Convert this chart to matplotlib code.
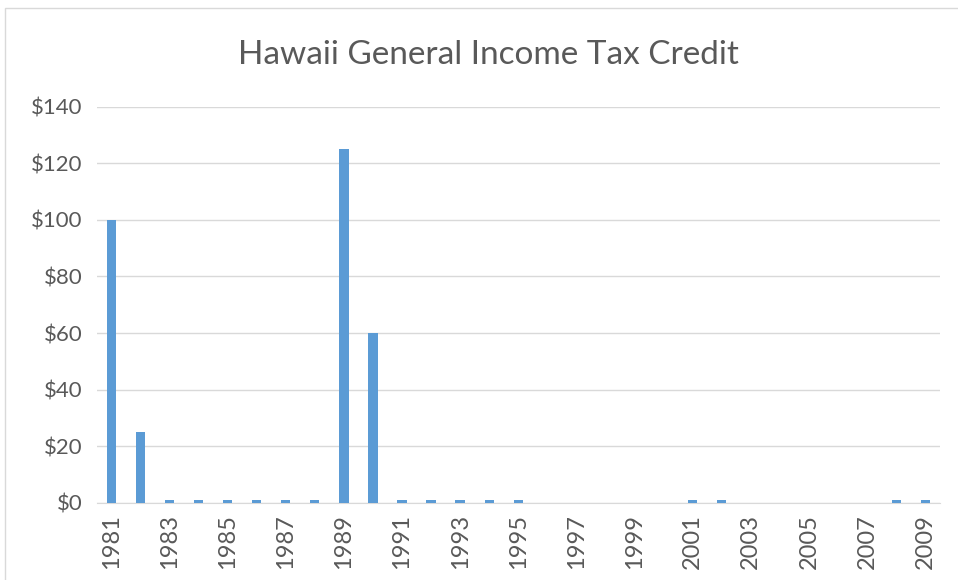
import matplotlib.pyplot as plt
from matplotlib.patches import Rectangle

years = list(range(1981, 2010))
credit = [100, 25, 1, 1, 1, 1, 1, 1, 125, 60, 1, 1, 1, 1, 1,
          0, 0, 0, 0, 0, 1, 1, 0, 0, 0, 0, 0, 1, 1]
tick_labels = [str(y) if (y - 1981) % 2 == 0 else "" for y in years]
y_ticks = [0, 20, 40, 60, 80, 100, 120, 140]

plt.rcParams["font.family"] = ["Lato", "DejaVu Sans"]
text_color = "#595959"

fig = plt.figure(figsize=(9.58, 5.8), dpi=100)
ax = fig.add_axes([0.101, 0.133, 0.880, 0.683])

x = list(range(len(years)))
ax.bar(x, credit, width=0.32, color="#5B9BD5", zorder=3)

ax.set_xlim(-0.5, len(years) - 0.5)
ax.set_ylim(0, 140)
ax.set_yticks(y_ticks)
ax.set_yticklabels([f"${v}" for v in y_ticks])
ax.set_xticks(x)
ax.set_xticklabels(tick_labels, rotation=90)
ax.tick_params(axis="both", length=0, colors=text_color)
ax.tick_params(axis="x", pad=8, labelsize=17)
ax.tick_params(axis="y", pad=10, labelsize=16)

ax.grid(axis="y", color="#D9D9D9", linewidth=1, zorder=0)
for side in ["top", "right", "left"]:
    ax.spines[side].set_visible(False)
ax.spines["bottom"].set_color("#D9D9D9")

fig.text(0.51, 0.905, "Hawaii General Income Tax Credit", ha="center", va="center",
         fontsize=24, color=text_color)

fig.patches.append(Rectangle((0.005, -0.01), 1.0, 0.996, transform=fig.transFigure,
                             fill=False, edgecolor="#D9D9D9", linewidth=1))

fig.savefig("out.png", dpi=100)
